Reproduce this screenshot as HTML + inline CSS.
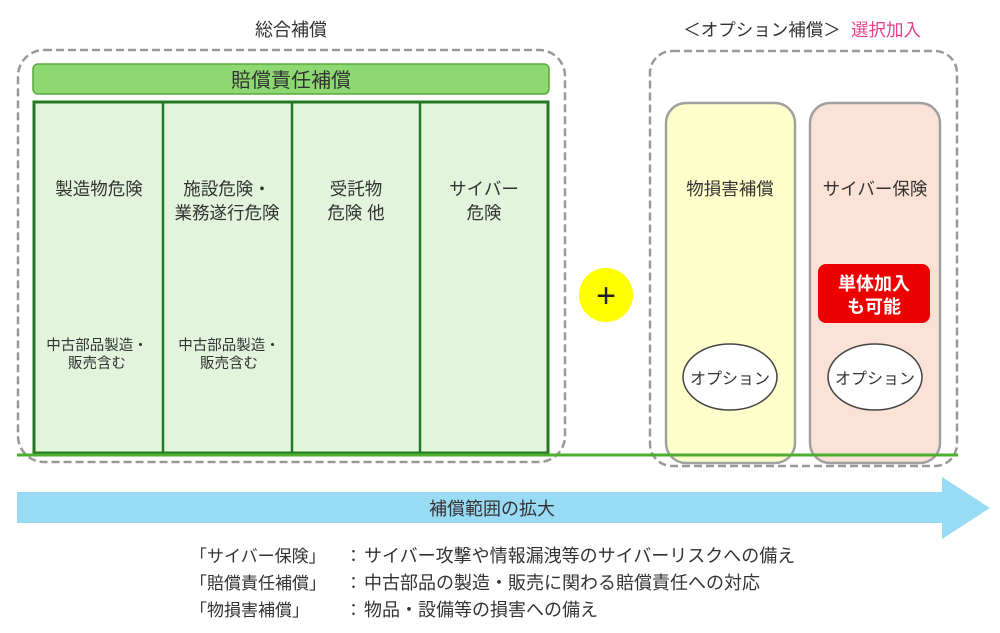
<!DOCTYPE html>
<html><head><meta charset="utf-8"><style>
html,body{margin:0;padding:0;background:#fff;width:1000px;height:633px;overflow:hidden}
svg text{font-family:"Liberation Sans","Noto Sans CJK JP",sans-serif;fill:#333}
</style></head><body>
<svg width="1000" height="633" viewBox="0 0 1000 633" xmlns="http://www.w3.org/2000/svg">
<text x="291" y="36" font-size="18" text-anchor="middle">総合補償</text>
<rect x="18" y="50" width="547" height="412" rx="26" fill="none" stroke="#999" stroke-width="2.5" stroke-dasharray="8,4"/>
<rect x="33" y="64" width="516" height="30" rx="5" fill="#8ed872" stroke="#5aa83c" stroke-width="1.5"/>
<text x="291" y="87" font-size="20" text-anchor="middle">賠償責任補償</text>
<rect x="34" y="102" width="514" height="351" fill="#e2f4dc" stroke="#237a23" stroke-width="3"/>
<line x1="163" y1="102" x2="163" y2="453" stroke="#237a23" stroke-width="2.5"/>
<line x1="292" y1="102" x2="292" y2="453" stroke="#237a23" stroke-width="2.5"/>
<line x1="420" y1="102" x2="420" y2="453" stroke="#237a23" stroke-width="2.5"/>
<g font-size="17.5" text-anchor="middle">
<text x="99" y="195">製造物危険</text>
<text x="227" y="195">施設危険・</text><text x="227" y="219">業務遂行危険</text>
<text x="356" y="195">受託物</text><text x="356" y="219">危険 他</text>
<text x="484" y="195">サイバー</text><text x="484" y="219">危険</text>
</g>
<g font-size="14.5" text-anchor="middle">
<text x="97" y="350">中古部品製造・</text><text x="97" y="368">販売含む</text>
<text x="229" y="350">中古部品製造・</text><text x="229" y="368">販売含む</text>
</g>
<circle cx="606" cy="295" r="27" fill="#ffff00"/>
<text x="606" y="307" font-size="34" text-anchor="middle" style="fill:#222">+</text>
<text x="762" y="36" font-size="17.5" text-anchor="middle">＜オプション補償＞</text>
<text x="886" y="36" font-size="17.5" text-anchor="middle" style="fill:#e8408a">選択加入</text>
<rect x="650" y="51" width="307" height="415" rx="22" fill="none" stroke="#999" stroke-width="2.5" stroke-dasharray="8,4"/>
<rect x="666" y="103" width="129" height="360" rx="20" fill="#ffffcc" stroke="#a0a0a0" stroke-width="2.5"/>
<rect x="810" y="103" width="130" height="360" rx="20" fill="#fbe2d6" stroke="#a0a0a0" stroke-width="2.5"/>
<text x="730" y="195" font-size="17.5" text-anchor="middle">物損害補償</text>
<text x="875" y="195" font-size="17.5" text-anchor="middle">サイバー保険</text>
<rect x="818" y="264" width="112" height="59" rx="8" fill="#ee0000"/>
<text x="874" y="290" font-size="18" font-weight="bold" text-anchor="middle" style="fill:#fff">単体加入</text>
<text x="874" y="313" font-size="18" font-weight="bold" text-anchor="middle" style="fill:#fff">も可能</text>
<ellipse cx="730" cy="377" rx="47" ry="33" fill="#fff" stroke="#444" stroke-width="1.5"/>
<ellipse cx="875" cy="377" rx="47" ry="33" fill="#fff" stroke="#444" stroke-width="1.5"/>
<text x="730" y="384" font-size="16" text-anchor="middle">オプション</text>
<text x="875" y="384" font-size="16" text-anchor="middle">オプション</text>
<line x1="17" y1="455" x2="958" y2="455" stroke="#4caf30" stroke-width="3"/>
<polygon points="17,492 942,492 942,477 990,508 942,539 942,523 17,523" fill="#99daf5"/>
<text x="492" y="515" font-size="18" text-anchor="middle">補償範囲の拡大</text>
<g font-size="17">
<text x="190" y="562">「サイバー保険」</text><text x="345" y="562">：</text>
<text x="190" y="589">「賠償責任補償」</text><text x="345" y="589">：</text>
<text x="190" y="616">「物損害補償」</text><text x="345" y="616">：</text>
</g>
<g font-size="18">
<text x="364" y="562">サイバー攻撃や情報漏洩等のサイバーリスクへの備え</text>
<text x="364" y="589">中古部品の製造・販売に関わる賠償責任への対応</text>
<text x="364" y="616">物品・設備等の損害への備え</text>
</g>
</svg>
</body></html>
